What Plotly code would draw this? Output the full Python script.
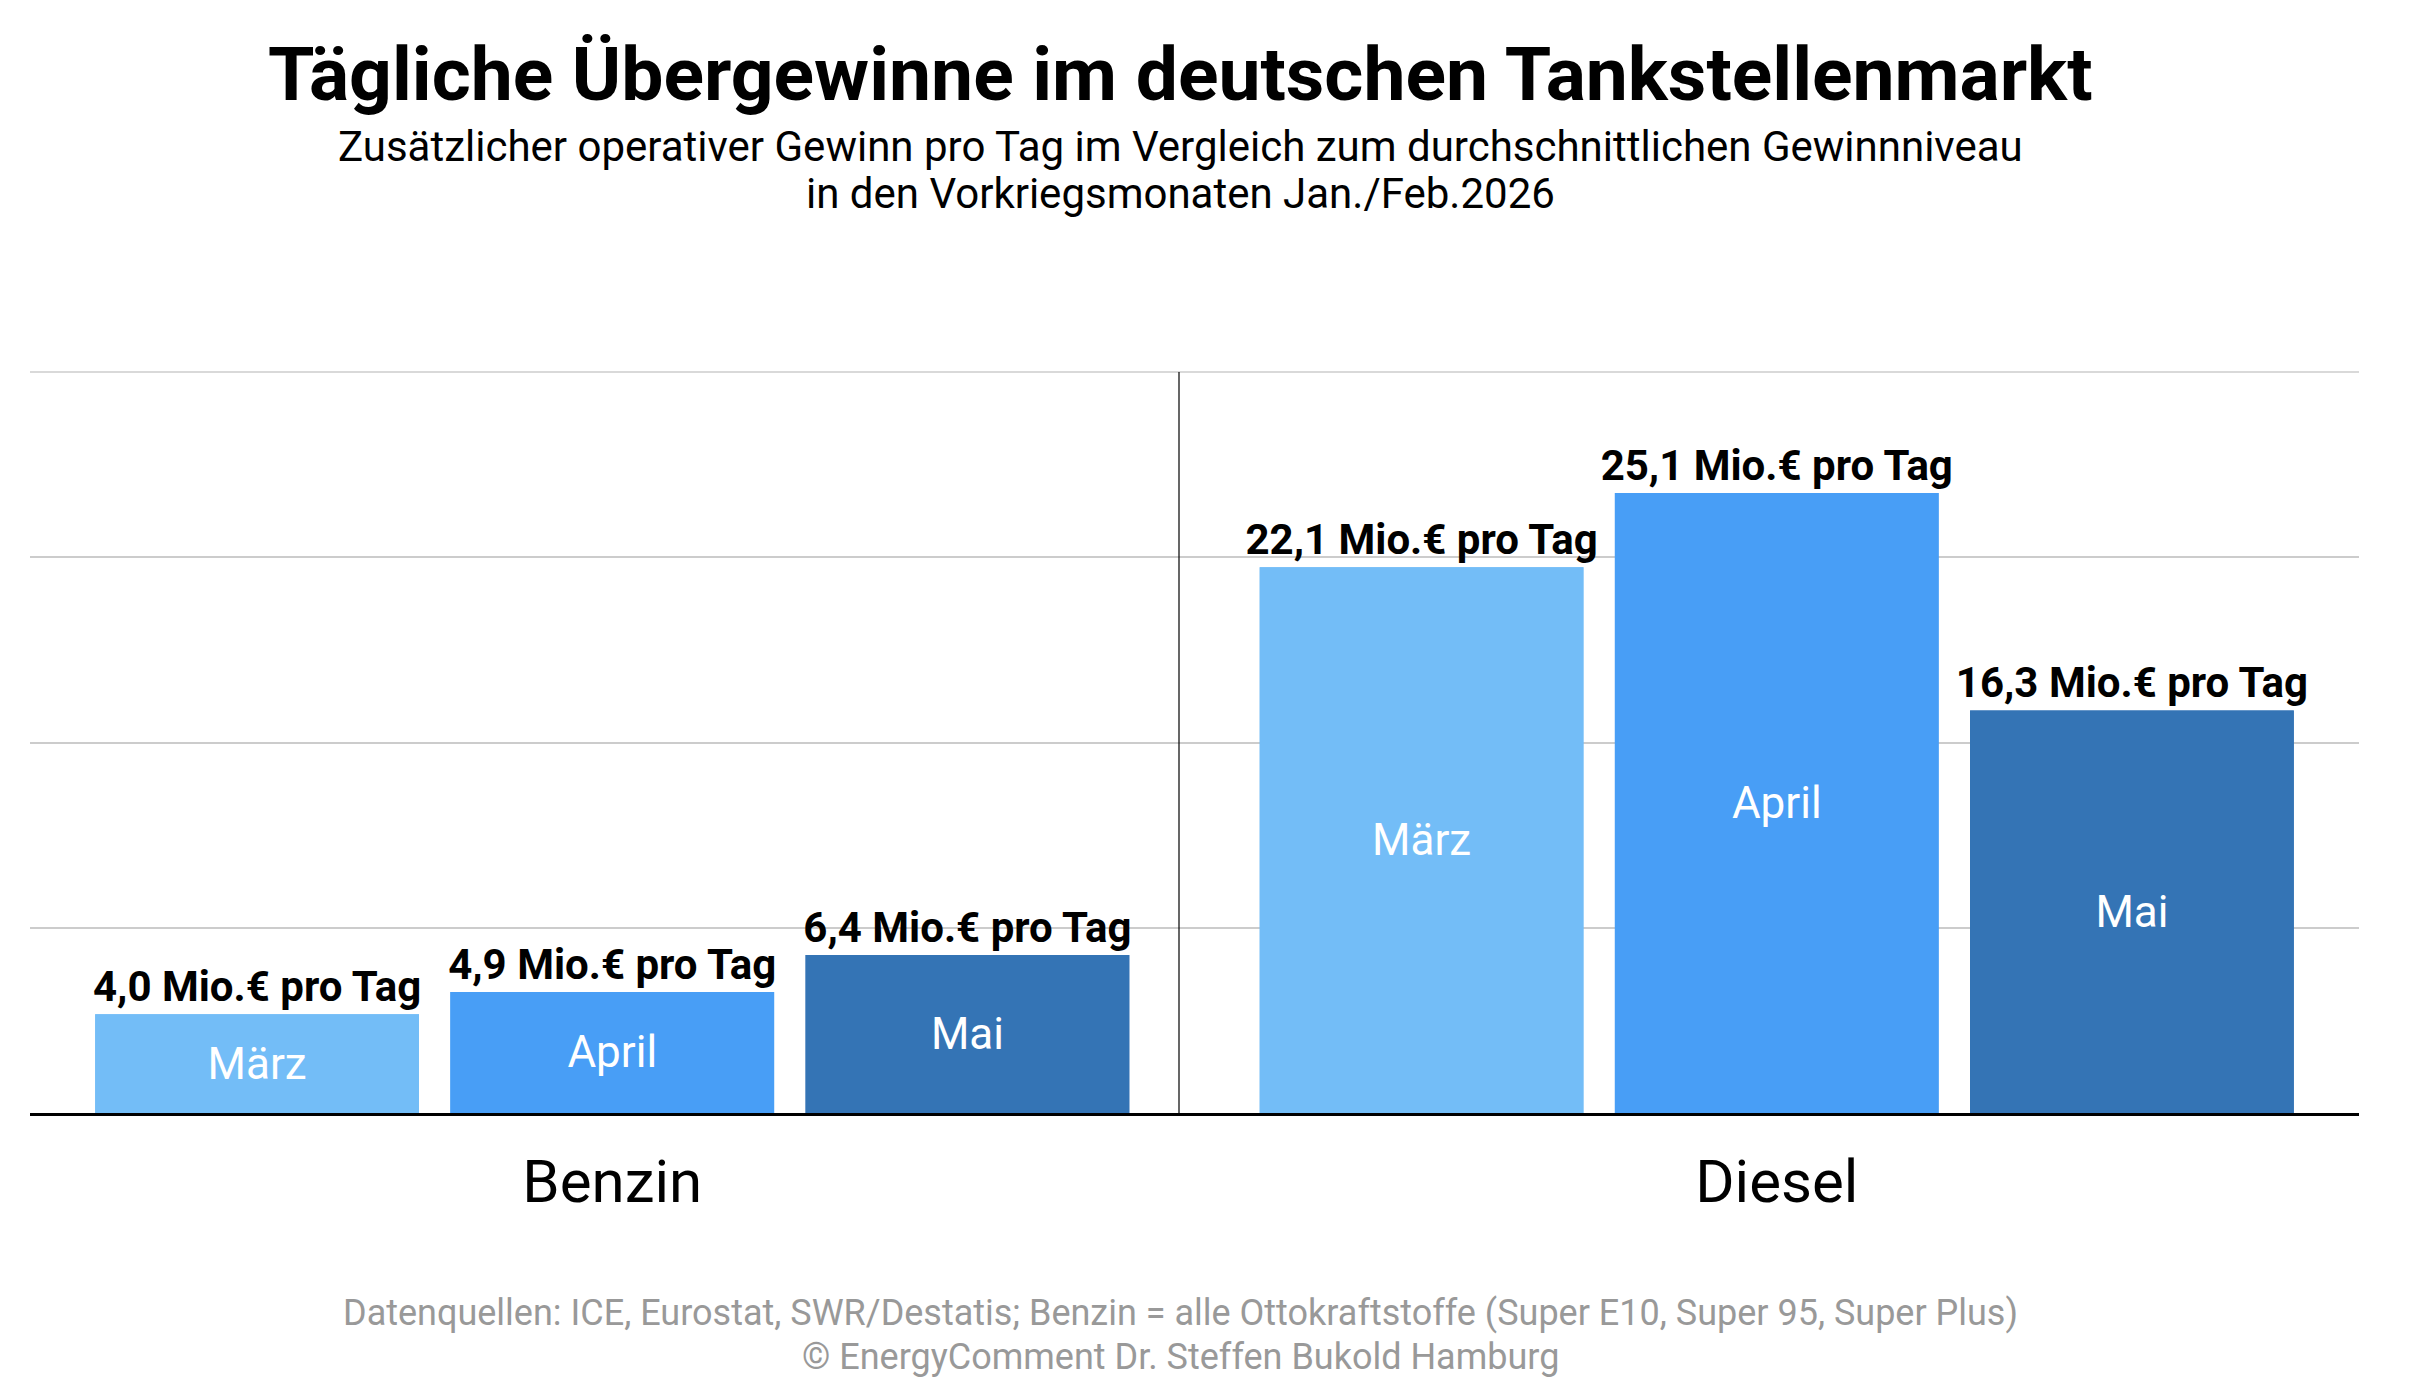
import plotly.graph_objects as go

# ---- data ----
categories = ["Benzin", "Diesel"]
months = ["März", "April", "Mai"]
maerz = [4.0, 22.1]
april = [4.9, 25.1]
mai = [6.4, 16.3]
series_values = [maerz, april, mai]
colors = ["#73bdf7", "#489ef6", "#3474b5"]
y_max = 30
y_step = 7.5

title = "Tägliche Übergewinne im deutschen Tankstellenmarkt"
subtitle1 = "Zusätzlicher operativer Gewinn pro Tag im Vergleich zum durchschnittlichen Gewinnniveau"
subtitle2 = "in den Vorkriegsmonaten Jan./Feb.2026"
footer1 = "Datenquellen: ICE, Eurostat, SWR/Destatis; Benzin = alle Ottokraftstoffe (Super E10, Super 95, Super Plus)"
footer2 = "© EnergyComment Dr. Steffen Bukold Hamburg"

W, H = 2420, 1396
ML, MR, MT, MB = 30, 61, 372, 283
PW = W - ML - MR
PH = H - MT - MB

FONT = "Roboto"

def fmt(v):
    return f"{v:.1f}".replace(".", ",") + " Mio.€ pro Tag"

bar_w = 0.278
centers = [-0.305, 0.0, 0.305]

fig = go.Figure()
for i, (m, vals, col) in enumerate(zip(months, series_values, colors)):
    off = centers[i] - bar_w / 2
    # value labels above the bars
    fig.add_trace(go.Bar(
        x=categories, y=vals, name=m, width=bar_w, offset=off,
        marker=dict(color=col, line=dict(width=0)),
        text=[fmt(v) for v in vals], textposition="outside",
        outsidetextfont=dict(family=FONT, size=42, color="black", weight="bold"),
        constraintext="none", cliponaxis=False, hoverinfo="skip",
    ))
    # month name inside the bars
    fig.add_trace(go.Bar(
        x=categories, y=vals, name=m, width=bar_w, offset=off,
        marker=dict(color=col, line=dict(width=0)),
        text=[m] * len(vals), textposition="inside", insidetextanchor="middle",
        insidetextfont=dict(family=FONT, size=44, color="white"),
        constraintext="none", hoverinfo="skip",
    ))

def py(ypix):
    return (H - MB - ypix) / PH

def px(xpix):
    return (xpix - ML) / PW

cx = px(1180)
annos = [
    dict(text=title, x=cx, y=py(74), font=dict(family=FONT, size=75, color="black", weight="bold")),
    dict(text=subtitle1, x=cx, y=py(146), font=dict(family=FONT, size=42, color="black")),
    dict(text=subtitle2, x=cx, y=py(193), font=dict(family=FONT, size=42, color="black")),
    dict(text=footer1, x=cx, y=py(1313), font=dict(family=FONT, size=36, color="#999999")),
    dict(text=footer2, x=cx, y=py(1357), font=dict(family=FONT, size=36, color="#999999")),
]
for a in annos:
    a.update(xref="paper", yref="paper", xanchor="center", yanchor="middle", showarrow=False)

fig.update_layout(
    width=W, height=H,
    margin=dict(l=ML, r=MR, t=MT, b=MB, pad=0),
    paper_bgcolor="white", plot_bgcolor="white",
    barmode="overlay", showlegend=False,
    annotations=annos,
    shapes=[
        # top gridline at y_max (plotly hides the gridline lying on the plot edge)
        dict(type="line", xref="paper", yref="paper", x0=0, x1=1, y0=1, y1=1,
             line=dict(color="#cccccc", width=1.5), layer="below"),
        # separator between the two groups
        dict(type="line", xref="paper", yref="y", x0=px(1179), x1=px(1179),
             y0=0, y1=y_max, line=dict(color="black", width=1.2), layer="above"),
    ],
)
fig.update_xaxes(
    range=[-0.5, 1.5], showgrid=False, showline=True, linecolor="black", linewidth=3,
    ticks="outside", tickcolor="rgba(0,0,0,0)", ticklen=14,
    tickfont=dict(family=FONT, size=60, color="black"), zeroline=False,
)
fig.update_yaxes(
    range=[0, y_max], dtick=y_step, tick0=0, showgrid=True, gridcolor="#cccccc", gridwidth=1.5,
    showticklabels=False, zeroline=False, showline=False,
)

fig.write_html("out.html")
